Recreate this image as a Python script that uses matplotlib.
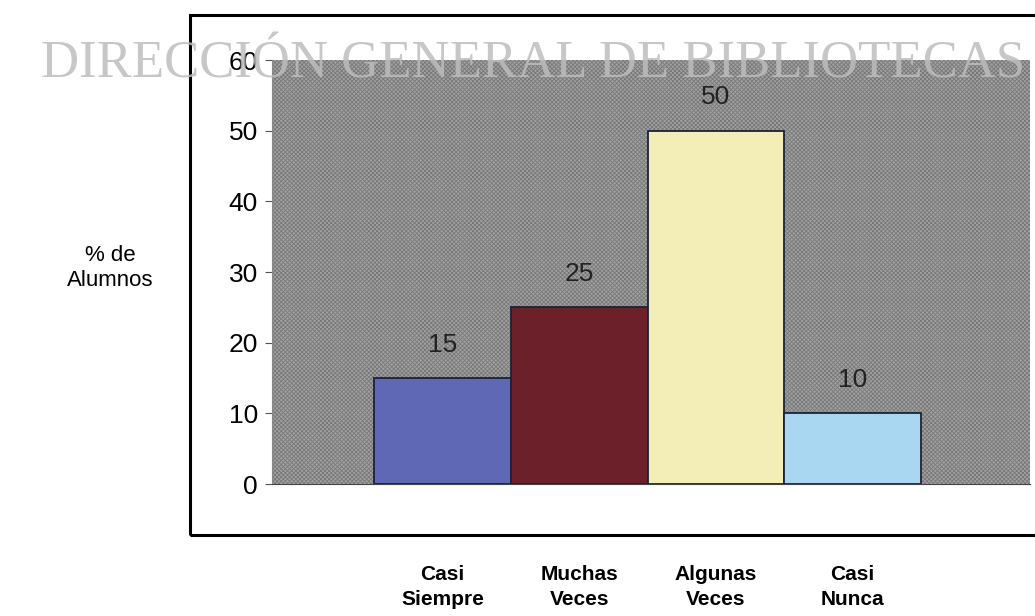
import matplotlib
matplotlib.use("Agg")
import matplotlib.pyplot as plt
from matplotlib.patches import Rectangle

categories = ["Casi\nSiempre", "Muchas\nVeces", "Algunas\nVeces", "Casi\nNunca"]
values = [15, 25, 50, 10]
bar_colors = ["#5f68b4", "#6c2029", "#f3edb8", "#a9d6f0"]
y_ticks = [0, 10, 20, 30, 40, 50, 60]

plt.rcParams["font.family"] = ["Liberation Sans", "DejaVu Sans"]
plt.rcParams["hatch.linewidth"] = 0.6

fig = plt.figure(figsize=(10.35, 6.16), dpi=100)
fig.patch.set_facecolor("white")

# outer frame, runs off the right edge
frame = Rectangle((190 / 1035, 1 - 535 / 616), 0.9, (535 - 15) / 616,
                  transform=fig.transFigure, fill=False, edgecolor="black",
                  linewidth=2.2, zorder=0)
fig.patches.append(frame)

ax = fig.add_axes([272 / 1035, 132 / 616, (1030 - 272) / 1035, 424 / 616])
ax.patch.set_facecolor("#a2a2a2")
ax.patch.set_hatch("xxxxxxxx")
ax.patch.set_edgecolor("#787878")

x = list(range(len(categories)))
bars = ax.bar(x, values, width=1.0, color=bar_colors, edgecolor="#1c2238",
              linewidth=1.3, zorder=2)

for xi, v in zip(x, values):
    ax.text(xi, v + 3.0, str(v), ha="center", va="bottom", fontsize=19,
            color="#222222", zorder=3)

ax.set_xlim(-1.25, 4.3)
ax.set_ylim(0, 60)
ax.set_yticks(y_ticks)
ax.tick_params(axis="y", labelsize=19, length=5, width=0.8, color="#555555", pad=5)
ax.set_xticks(x)
ax.set_xticklabels(categories, fontsize=15, fontweight="bold", linespacing=1.45)
ax.tick_params(axis="x", length=0, pad=58)

for s in ["top", "right"]:
    ax.spines[s].set_visible(False)
ax.spines["left"].set_color("#888888")
ax.spines["bottom"].set_color("#444444")

fig.text(110 / 1035, 1 - 268 / 616, "% de\nAlumnos", ha="center", va="center",
         fontsize=16, linespacing=1.25)

# scanned watermark
fig.text(533 / 1035, 1 - 64 / 616, "DIRECCIÓN GENERAL DE BIBLIOTECAS", ha="center",
         va="center", fontsize=38, family="Liberation Serif", color="#bdbdbd",
         alpha=0.85, zorder=10)

fig.savefig("out.png", dpi=100)
